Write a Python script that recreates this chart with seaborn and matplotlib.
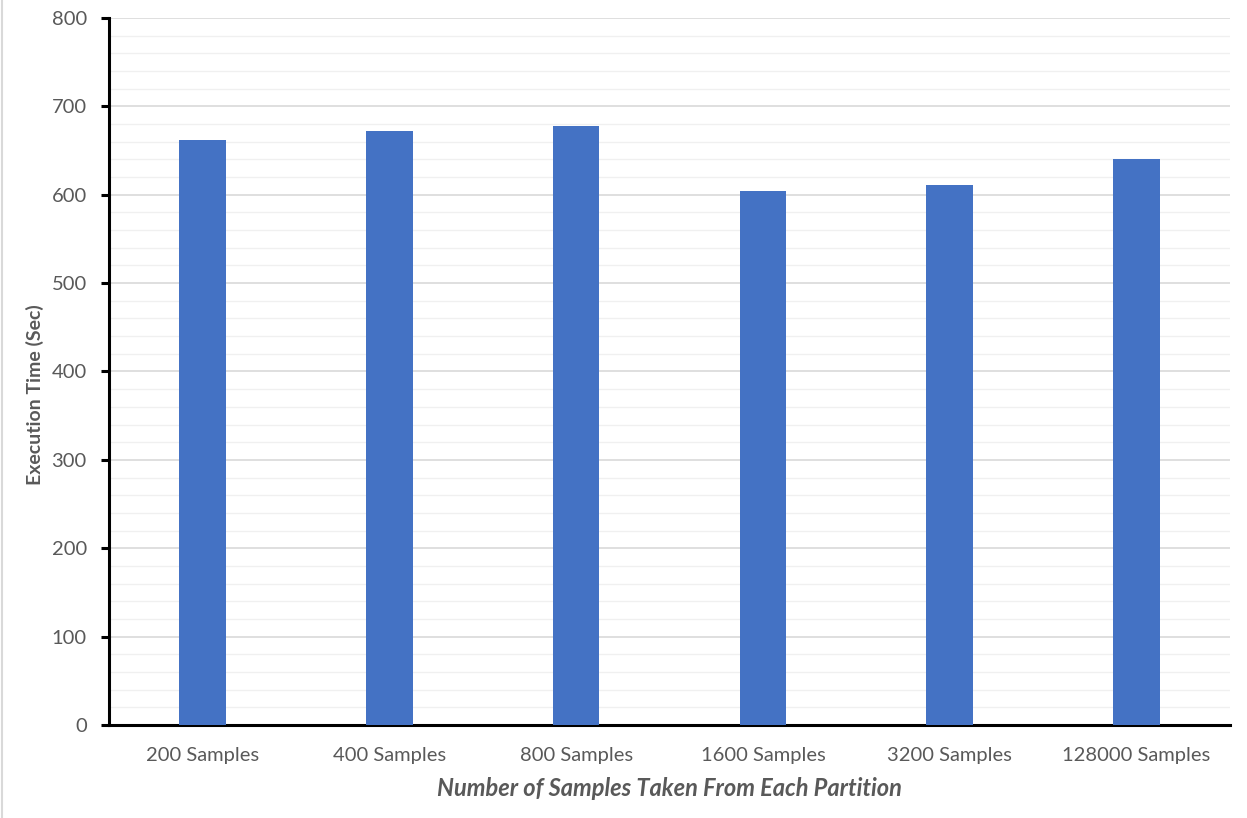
import matplotlib
matplotlib.use("Agg")
import matplotlib.pyplot as plt
from matplotlib.lines import Line2D
from matplotlib.ticker import MultipleLocator
import seaborn as sns
import pandas as pd

categories = ["200 Samples", "400 Samples", "800 Samples",
              "1600 Samples", "3200 Samples", "128000 Samples"]
exec_time = [662, 672, 678, 604, 611, 640]

df = pd.DataFrame({"samples": categories, "time": exec_time})

sns.set_theme(style="white")
plt.rcParams["font.family"] = ["Lato", "DejaVu Sans"]

text_color = "#595959"

fig = plt.figure(figsize=(12.47, 8.18), dpi=100)
# thin gray rule along the left edge of the canvas
fig.add_artist(Line2D([0.0014, 0.0014], [0, 1], transform=fig.transFigure,
                      color="#d9d9d9", linewidth=1.5))
ax = fig.add_axes([0.0874, 0.1137, 0.8990, 0.8643])

sns.barplot(data=df, x="samples", y="time", color="#4472c4", saturation=1,
            width=0.25, linewidth=0, ax=ax, zorder=3)

ax.set_ylim(0, 800)
ax.set_xlim(-0.5, len(categories) - 0.5)
ax.yaxis.set_major_locator(MultipleLocator(100))
ax.yaxis.set_minor_locator(MultipleLocator(20))
ax.grid(which="major", axis="y", color="#d9d9d9", linewidth=1.2, zorder=0)
ax.grid(which="minor", axis="y", color="#f0f0f0", linewidth=1.0, zorder=0)
ax.set_axisbelow(True)

for side in ["top", "right"]:
    ax.spines[side].set_visible(False)
for side in ["left", "bottom"]:
    ax.spines[side].set_color("black")
    ax.spines[side].set_linewidth(2.2)

ax.tick_params(axis="y", which="major", left=True, length=6, width=2.2,
               color="black", labelsize=14.5, labelcolor=text_color, pad=10)
ax.tick_params(axis="y", which="minor", left=False)
ax.tick_params(axis="x", bottom=False, labelsize=14.5, labelcolor=text_color, pad=10)

ax.set_ylabel("Execution Time (Sec)", fontsize=14, fontweight="bold",
              color=text_color)
ax.yaxis.set_label_coords(-0.058, 0.467)
ax.set_xlabel("Number of Samples Taken From Each Partition", fontsize=17,
              fontweight="bold", fontstyle="italic", color=text_color, labelpad=9)

fig.savefig("out.png", dpi=100)
